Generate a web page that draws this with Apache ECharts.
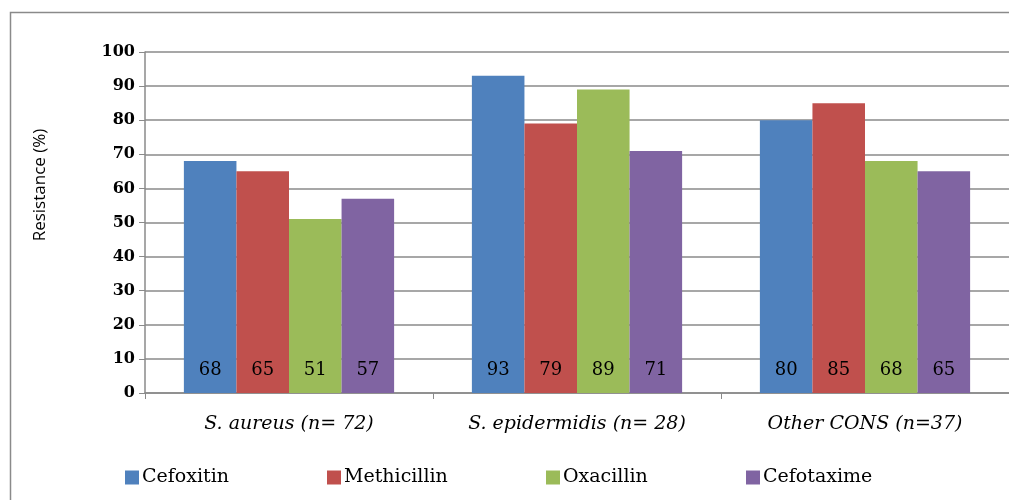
<!DOCTYPE html>
<html><head><meta charset="utf-8">
<script src="https://cdn.jsdelivr.net/npm/echarts@6/dist/echarts.min.js"></script>
<style>html,body{margin:0;padding:0;background:#fff}#c{width:1009px;height:500px}</style>
</head><body><div id="c"></div>
<script>
const categories = ['S. aureus (n= 72)', 'S. epidermidis (n= 28)', 'Other CONS (n=37)'];
const seriesNames = ['Cefoxitin', 'Methicillin', 'Oxacillin', 'Cefotaxime'];
const cefoxitin = [68, 93, 80];
const methicillin = [65, 79, 85];
const oxacillin = [51, 89, 68];
const cefotaxime = [57, 71, 65];
const yTitle = 'Resistance (%)';
const colors = ['#4F81BD', '#C0504D', '#9BBB59', '#8064A2'];
const values = [cefoxitin, methicillin, oxacillin, cefotaxime];
const legendLeft = [120, 322, 541, 741];

const chart = echarts.init(document.getElementById('c'));
const serif = 'DejaVu Serif';
chart.setOption({
  animation: false,
  graphic: [
    {type:'rect', left: 8, top: 10, shape:{width: 1010, height: 500}, style:{fill:'none', stroke:'#8a8a8a', lineWidth: 1.5}, silent:true},
    {type:'text', x: 40, y: 185, rotation: Math.PI/2, style:{text: yTitle, fontFamily:'Open Sans', fontSize: 17, fill:'#000', align:'center', verticalAlign:'middle'}, silent:true}
  ],
  grid: {left: 145, right: -11, top: 52, bottom: 107, containLabel: false},
  legend: seriesNames.map((n, i) => ({
    data: [n], left: legendLeft[i], top: 463, itemWidth: 14, itemHeight: 14, itemGap: 4,
    icon: 'rect', textStyle: {fontFamily: serif, fontSize: 19, color: '#000', padding: [0,0,0,-2]}
  })),
  xAxis: {
    type: 'category', data: categories,
    axisLine: {lineStyle: {color: '#8a8a8a', width: 1.5}},
    axisTick: {show: true, length: 6, lineStyle: {color: '#8a8a8a'}},
    axisLabel: {fontFamily: serif, fontStyle: 'italic', fontSize: 19, color: '#000', margin: 22}
  },
  yAxis: {
    type: 'value', min: 0, max: 100, interval: 10,
    axisLine: {show: true, lineStyle: {color: '#8a8a8a', width: 1.5}},
    axisTick: {show: true, length: 6, lineStyle: {color: '#8a8a8a'}},
    axisLabel: {fontFamily: serif, fontWeight: 'bold', fontSize: 16, color: '#000', margin: 10},
    splitLine: {lineStyle: {color: '#8a8a8a', width: 1.5}}
  },
  series: seriesNames.map((n, i) => ({
    name: n, type: 'bar', data: values[i], barGap: '0%', barCategoryGap: '27%',
    itemStyle: {color: colors[i]},
    label: {show: true, position: 'insideBottom', distance: 14, fontFamily: serif, fontSize: 18, color: '#000'}
  }))
});
</script></body></html>
